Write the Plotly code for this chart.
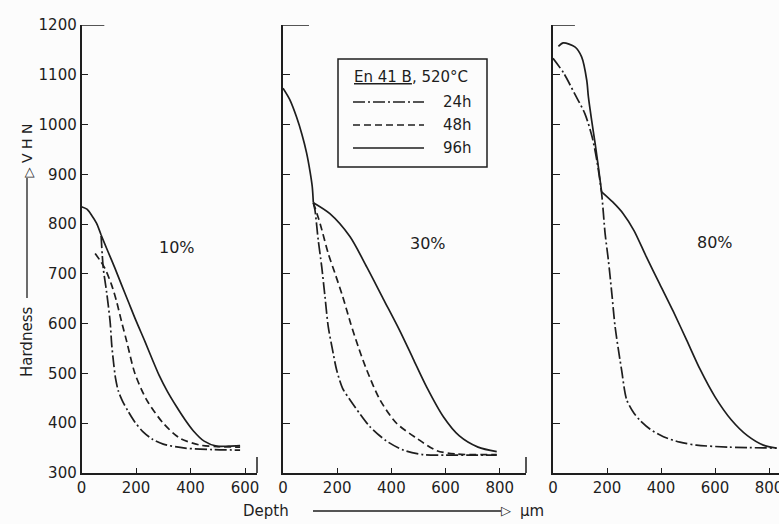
import plotly.graph_objects as go

W, H = 779, 524
FONT = "DejaVu Sans"
INK = "#1e1e1e"

# ---------------- data ----------------
SERIES = ["24h", "48h", "96h"]
PANEL_LABELS = ["10%", "30%", "80%"]
Y_TICKS = [300, 400, 500, 600, 700, 800, 900, 1000, 1100, 1200]
X_TICKS_1 = [0, 200, 400, 600]
X_TICKS_2 = [0, 200, 400, 600, 800]
X_TICKS_3 = [0, 200, 400, 600, 800]

# Panel 1 (10 %)
P1_24H_X = [72, 80, 92, 105, 111, 118, 125, 135, 150, 170, 195, 225, 260, 300, 380, 480, 582]
P1_24H_Y = [776, 711, 664, 604, 557, 520, 490, 465, 445, 425, 403, 383, 368, 358, 350, 347, 346]
P1_48H_X = [50, 68, 86, 111, 129, 147, 166, 196, 239, 300, 361, 435, 500, 582]
P1_48H_Y = [741, 727, 711, 677, 644, 604, 564, 500, 447, 400, 370, 356, 353, 352]
P1_96H_X = [0, 20, 37, 55, 72, 97, 123, 147, 172, 200, 233, 260, 285, 315, 349, 380, 410, 450, 496, 540, 582]
P1_96H_Y = [835, 830, 818, 802, 778, 745, 711, 678, 644, 606, 564, 528, 496, 464, 433, 407, 385, 364, 354, 354, 355]
P1_96H_CORNER = 4

# Panel 2 (30 %)
P2_24H_X = [112, 118, 130, 143, 155, 167, 182, 198, 220, 247, 285, 321, 380, 444, 518, 600, 700, 789]
P2_24H_Y = [843, 828, 768, 714, 654, 594, 550, 507, 470, 447, 418, 393, 365, 346, 337, 336, 336, 336]
P2_48H_X = [112, 137, 167, 192, 220, 250, 280, 309, 358, 419, 493, 567, 642, 789]
P2_48H_Y = [843, 801, 741, 701, 655, 600, 550, 507, 447, 400, 370, 345, 338, 337]
P2_96H_X = [0, 25, 50, 70, 87, 100, 108, 112, 173, 247, 309, 370, 430, 480, 530, 592, 650, 720, 789]
P2_96H_Y = [1073, 1050, 1015, 980, 943, 905, 875, 843, 821, 775, 714, 650, 587, 530, 473, 413, 375, 352, 343]
P2_96H_CORNER = 7

# Panel 3 (80 %)
P3_24H_X = [0, 40, 80, 118, 145, 162, 180, 193, 205, 218, 230, 254, 273, 300, 322, 360, 409, 470, 531, 650, 828]
P3_24H_Y = [1133, 1103, 1062, 1022, 975, 929, 862, 781, 728, 660, 594, 507, 447, 420, 406, 388, 373, 362, 356, 352, 350]
P3_96H_X = [20, 38, 81, 106, 125, 131, 143, 156, 168, 180, 220, 260, 300, 345, 395, 445, 495, 545, 600, 660, 720, 779, 828]
P3_96H_Y = [1157, 1164, 1156, 1136, 1089, 1056, 1009, 962, 915, 865, 845, 821, 787, 735, 680, 625, 567, 508, 453, 407, 375, 356, 350]
P3_96H_CORNER = 9

DASH = {"24h": "12px,3px,2px,3px", "48h": "7px,4px", "96h": "solid"}


def px(x):
    return x / W


def py(y):
    return 1 - y / H


fig = go.Figure()


def add_line(xs, ys, series, n, corner=None):
    xa = "x" if n == 1 else f"x{n}"
    ya = "y" if n == 1 else f"y{n}"
    parts = [(xs, ys)]
    if corner is not None:
        parts = [(xs[:corner + 1], ys[:corner + 1]), (xs[corner:], ys[corner:])]
    for sx, sy in parts:
        fig.add_trace(go.Scatter(
            x=sx, y=sy, mode="lines", xaxis=xa, yaxis=ya, name=series,
            showlegend=False, hoverinfo="skip",
            line=dict(color=INK, width=1.7, dash=DASH[series], shape="spline", smoothing=0.8),
        ))


add_line(P1_24H_X, P1_24H_Y, "24h", 1)
add_line(P1_48H_X, P1_48H_Y, "48h", 1)
add_line(P1_96H_X, P1_96H_Y, "96h", 1, P1_96H_CORNER)
add_line(P2_24H_X, P2_24H_Y, "24h", 2)
add_line(P2_48H_X, P2_48H_Y, "48h", 2)
add_line(P2_96H_X, P2_96H_Y, "96h", 2, P2_96H_CORNER)
add_line(P3_24H_X, P3_24H_Y, "24h", 3)
add_line(P3_96H_X, P3_96H_Y, "96h", 3, P3_96H_CORNER)

ydom = [py(473), py(25)]
panels = [
    (1, [px(81.5), px(257)], [0, 644], X_TICKS_1, True, 0.13, True),
    (2, [px(283), px(526)], [0, 897], X_TICKS_2, False, 0.107, True),
    (3, [px(553), 1.0], [0, 837], X_TICKS_3, False, 0.097, False),
]

axis_common = dict(showgrid=False, zeroline=False, showline=True, linecolor=INK, linewidth=1.5,
                   ticks="inside", tickcolor=INK, tickwidth=1.4, automargin=False,
                   tickfont=dict(family=FONT, size=15, color=INK))

layout = dict(width=W, height=H, margin=dict(l=0, r=0, t=0, b=0, pad=0, autoexpand=False),
              paper_bgcolor="#fcfcfc", plot_bgcolor="rgba(0,0,0,0)", showlegend=False)

shapes = []
annotations = []


def note(text, x, y, size=14, angle=0, xanchor="center"):
    annotations.append(dict(text=text, x=px(x), y=py(y), xref="paper", yref="paper",
                            xanchor=xanchor, yanchor="middle", textangle=angle, showarrow=False,
                            font=dict(family=FONT, size=size, color=INK)))


for n, dom, rng, xt, ylabels, toplen, endtick in panels:
    xk = "xaxis" if n == 1 else f"xaxis{n}"
    yk = "yaxis" if n == 1 else f"yaxis{n}"
    xr = "x" if n == 1 else f"x{n}"
    yr = "y" if n == 1 else f"y{n}"
    layout[xk] = dict(axis_common, domain=dom, range=rng, anchor=yr, tickvals=xt,
                      ticktext=[str(v) for v in xt], ticklen=5, ticklabeloverflow="allow")
    layout[yk] = dict(axis_common, domain=ydom, range=[300, 1200], anchor=xr, tickvals=Y_TICKS,
                      ticktext=[str(v) for v in Y_TICKS], showticklabels=ylabels, ticklen=7)
    shapes.append(dict(type="line", xref=f"{xr} domain", yref=yr, x0=0, x1=toplen, y0=1200, y1=1200,
                       line=dict(color=INK, width=1.5)))
    if endtick:
        shapes.append(dict(type="line", xref=f"{xr} domain", yref=yr, x0=1, x1=1, y0=300, y1=332,
                           line=dict(color=INK, width=1.5)))

# panel percentage labels
pct_pos = [(350, 754), (535, 762), (600, 764)]
for i, (lab, (lx, ly)) in enumerate(zip(PANEL_LABELS, pct_pos)):
    n = i + 1
    annotations.append(dict(text=lab, x=lx, y=ly, xref="x" if n == 1 else f"x{n}",
                            yref="y" if n == 1 else f"y{n}", xanchor="center", yanchor="middle",
                            showarrow=False, font=dict(family=FONT, size=16, color=INK)))

# legend box (drawn manually)
shapes.append(dict(type="rect", xref="paper", yref="paper", x0=px(338), x1=px(487), y0=py(167), y1=py(59),
                   line=dict(color=INK, width=1.5), fillcolor="rgba(0,0,0,0)"))
note("<u>En 41 B</u>, 520°C", 352, 77, size=15, xanchor="left")
for s, yy in zip(SERIES, [102, 125, 148]):
    shapes.append(dict(type="line", xref="paper", yref="paper", x0=px(353), x1=px(424), y0=py(yy), y1=py(yy),
                       line=dict(color=INK, width=1.6, dash=DASH[s])))
    note(s, 474, yy, size=15, xanchor="right")

# y-axis title: Hardness ——▷ VHN
note("Hardness", 27, 342, size=15, angle=-90)
shapes.append(dict(type="line", xref="paper", yref="paper", x0=px(27), x1=px(27), y0=py(298), y1=py(178),
                   line=dict(color=INK, width=1.3)))
note("▷", 27.5, 172, size=13, angle=-90)
note("V H N", 27, 144, angle=-90)

# x-axis title: Depth ——▷ µm
note("Depth", 266, 511, size=15)
shapes.append(dict(type="line", xref="paper", yref="paper", x0=px(313), x1=px(501), y0=py(511), y1=py(511),
                   line=dict(color=INK, width=1.3)))
note("▷", 506, 510.5, size=13)
note("µm", 532, 511, size=15)

layout["shapes"] = shapes
layout["annotations"] = annotations
fig.update_layout(**layout)
fig.write_html("out.html")
